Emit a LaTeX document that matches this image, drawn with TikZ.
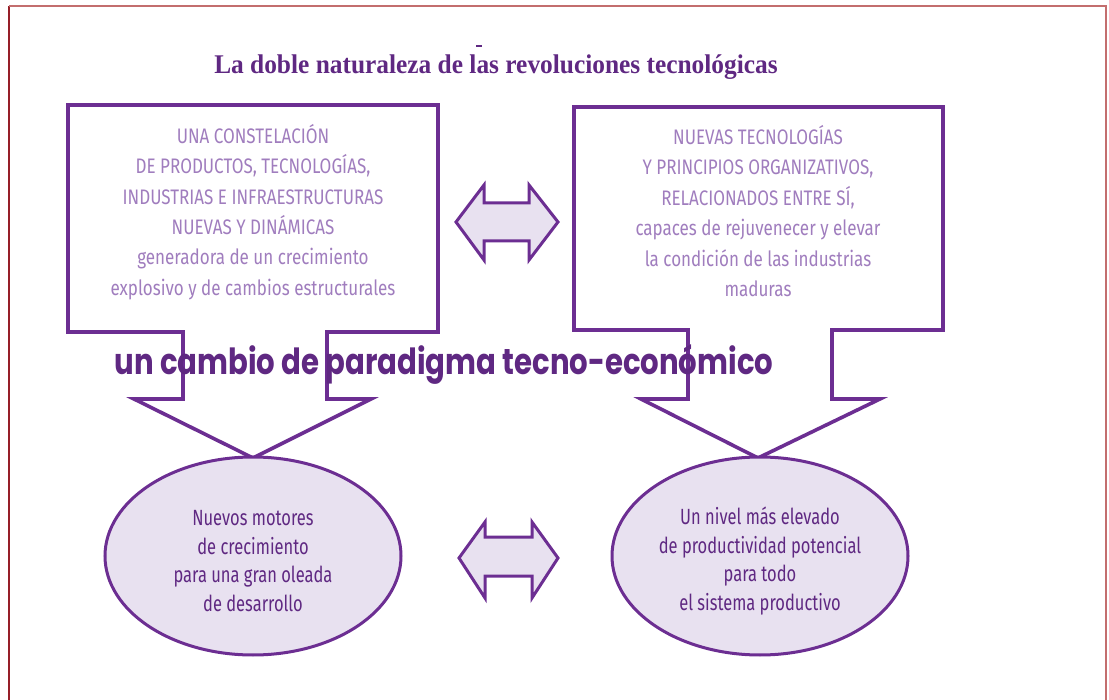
\documentclass[tikz,border=0pt]{standalone}
\usepackage{fontspec}
\usetikzlibrary{shapes.geometric}
\newfontfamily\boxf[FakeStretch=0.81]{Fira Sans}
\newfontfamily\ellf[FakeStretch=0.75]{Fira Sans}
\newfontfamily\titlef[FakeStretch=0.94]{Liberation Serif}
\newfontfamily\bigf[FakeStretch=0.81]{Poppins}
\definecolor{pline}{RGB}{108,46,146}
\definecolor{ptext}{RGB}{160,125,190}
\definecolor{pdark}{RGB}{95,40,130}
\definecolor{pfill}{RGB}{232,225,240}
\definecolor{framedark}{RGB}{150,30,40}
\definecolor{framelight}{RGB}{195,110,110}
\begin{document}
\begin{tikzpicture}[x=1pt,y=-1pt,
  callout/.style={draw=pline,line width=3.6pt,line join=miter,fill=white},
  boxtext/.style={text=ptext,align=center,inner sep=0pt,font={\boxf\fontsize{21}{30.4}\selectfont}},
  elltext/.style={text=pdark,align=center,inner sep=0pt,font={\ellf\fontsize{22}{28.4}\selectfont}},
  ellnode/.style={draw=pline,line width=3pt,fill=pfill,ellipse,minimum width=296pt,minimum height=198pt,inner sep=0pt},
  dblarrow/.style={draw=pline,line width=3pt,fill=pfill,line join=miter}
]
\useasboundingbox (0,0) rectangle (1109,700);
% frame
\draw[framedark,line width=2pt] (9,6) -- (9,700);
\draw[framelight,line width=2pt] (9,6) -- (1106,6) -- (1106,700);
% title
\node[text=pdark,inner sep=0pt,font={\titlef\bfseries\fontsize{27}{30}\selectfont}] (title) at (496,67) {La doble naturaleza de las revoluciones tecnológicas};
\fill[pdark] (476,45) rectangle (482,47);
% callouts
\draw[callout] (68,105) -- (438,105) -- (438,332) -- (327,332) -- (327,399) -- (371,399) -- (253,458) -- (134,399) -- (183,399) -- (183,332) -- (68,332) -- cycle;
\draw[callout] (574,107) -- (943,107) -- (943,330) -- (832,330) -- (832,399) -- (880,399) -- (758,458) -- (641,399) -- (688,399) -- (688,330) -- (574,330) -- cycle;
% box texts
\node[boxtext] (lt) at (253,212) {UNA CONSTELACIÓN\\DE PRODUCTOS, TECNOLOGÍAS,\\INDUSTRIAS E INFRAESTRUCTURAS\\NUEVAS Y DINÁMICAS\\generadora de un crecimiento\\explosivo y de cambios estructurales};
\node[boxtext] (rt) at (758,211) {NUEVAS TECNOLOGÍAS\\Y PRINCIPIOS ORGANIZATIVOS,\\RELACIONADOS ENTRE SÍ,\\capaces de rejuvenecer y elevar\\la condición de las industrias\\maduras};
% big text
\node[text=pdark,inner sep=0pt,font={\bigf\bfseries\fontsize{36}{40}\selectfont}] (para) at (444,364) {un cambio de paradigma tecno-económico};
% ellipses
\node[ellnode] (le) at (253,556) {};
\node[ellnode] (re) at (760,556) {};
\node[elltext] (let) at (253,561) {Nuevos motores\\de crecimiento\\para una gran oleada\\de desarrollo};
\node[elltext] (ret) at (760,561) {Un nivel más elevado\\de productividad potencial\\para todo\\el sistema productivo};
% double arrows
\draw[dblarrow] (456,222) -- (484,185) -- (484,203) -- (529,203) -- (529,185) -- (558,222) -- (529,260) -- (529,241) -- (484,241) -- (484,260) -- cycle;
\draw[dblarrow] (459,558) -- (485,522) -- (485,537) -- (532,537) -- (532,522) -- (558,558) -- (532,598) -- (532,576) -- (485,576) -- (485,598) -- cycle;
\end{tikzpicture}
\end{document}
